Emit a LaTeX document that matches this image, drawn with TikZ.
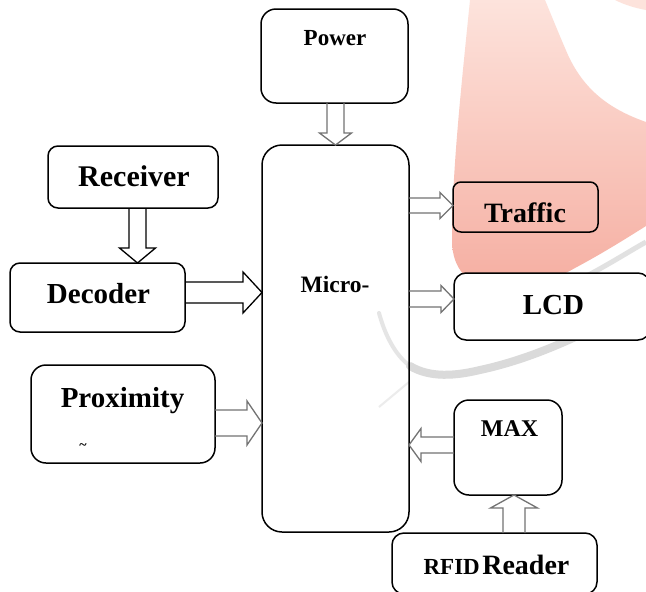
\documentclass[tikz,border=0pt]{standalone}
\usepackage{fontspec}
\setmainfont{Liberation Serif}
\usetikzlibrary{calc}

\definecolor{wmtop}{HTML}{FDE3DC}
\definecolor{wmbot}{HTML}{F5AC9F}
\definecolor{wmgrey}{HTML}{DADADA}

% bold text at a given size
\newcommand\fsz[1]{\fontsize{#1}{#1}\selectfont\bfseries}

% horizontal block arrow: #1 tail, #2 tip (x only), #3 shaft half width,
% #4 head half width, #5 signed head length, #6 style
\newcommand\harrow[6]{%
  \draw[#6] let \p1=(#1), \p2=(#2) in
    (\x1,{\y1+#3}) -- ({\x2-(#5)},{\y1+#3}) -- ({\x2-(#5)},{\y1+#4})
    -- (\x2,\y1) -- ({\x2-(#5)},{\y1-#4}) -- ({\x2-(#5)},{\y1-#3})
    -- (\x1,{\y1-#3});}
% vertical block arrow, same arguments with the roles of x and y swapped
\newcommand\varrow[6]{%
  \draw[#6] let \p1=(#1), \p2=(#2) in
    ({\x1+#3},\y1) -- ({\x1+#3},{\y2-(#5)}) -- ({\x1+#4},{\y2-(#5)})
    -- (\x1,\y2) -- ({\x1-#4},{\y2-(#5)}) -- ({\x1-#3},{\y2-(#5)})
    -- ({\x1-#3},\y1);}

\tikzset{
  box/.style={draw=black, line width=1.5pt, rounded corners=#1,
    inner sep=0pt, outer sep=0pt},
  box/.default=12pt,
  lbl/.style={inner sep=0pt, anchor=base},
  blockarrow/.style={draw=black!55, line width=1.3pt, line join=miter},
  darkarrow/.style={draw=black, line width=1.3pt, line join=miter},
}

\begin{document}
\begin{tikzpicture}[x=1pt, y=-1pt]
\useasboundingbox (0,0) rectangle (646,592);
\fill[white] (0,0) rectangle (646,592);

% background mark
\shade[top color=wmtop, bottom color=wmbot]
  (470,0) .. controls (462,80) and (452,170) .. (452,240)
  .. controls (452,300) and (520,300) .. (575,268)
  .. controls (605,252) and (630,236) .. (646,226)
  -- (646,122) .. controls (612,110) and (585,92) .. (568,55)
  .. controls (558,32) and (550,12) .. (545,0) -- cycle;
\fill[wmtop] (615,0) -- (646,0) -- (646,10) .. controls (635,8) and (625,5) .. (615,0);
\draw[wmgrey, line width=5pt, opacity=0.8]
  (575,282) .. controls (605,267) and (628,252) .. (646,242);
\draw[wmgrey!70, line width=4pt, line cap=round]
  (379,313) .. controls (385,335) and (395,355) .. (410,366);
\draw[wmgrey, line width=8pt, line cap=round]
  (410,366) .. controls (430,378) and (455,376) .. (480,370)
  .. controls (545,356) and (600,325) .. (646,302);
\draw[wmgrey!50, line width=2pt]
  (379,407) -- (409,382);

% blocks
\node[box=15pt, minimum width=147pt, minimum height=94pt] (power) at (334.5,56) {};
\node[lbl, font=\fsz{23}] (powertxt) at (335,45) {Power};

\node[box=20pt, minimum width=147pt, minimum height=387pt] (micro) at (335.5,338.5) {};
\node[lbl, font=\fsz{23.5}] (microtxt) at (335,292) {Micro-};

\node[box=10pt, minimum width=170pt, minimum height=62pt] (receiver) at (133,177) {};
\node[lbl, font=\fsz{30}] (receivertxt) at (134,186) {Receiver};

\node[box=10pt, minimum width=175pt, minimum height=69pt] (decoder) at (97.5,297.5) {};
\node[lbl, font=\fsz{29}] (decodertxt) at (98.5,303) {Decoder};

\node[box=8pt, minimum width=145pt, minimum height=50pt] (traffic) at (525.5,207) {};
\node[lbl, font=\fsz{28}] (traffictxt) at (525,222) {Traffic};

\node[box=12pt, fill=white, minimum width=196pt, minimum height=67pt] (lcd) at (552,306.5) {};
\node[lbl, font=\fsz{29}] (lcdtxt) at (553.5,314) {LCD};

\node[box=15pt, minimum width=184pt, minimum height=98pt] (proximity) at (123,414) {};
\node[lbl, font=\fsz{29}] (proximitytxt) at (122.5,407) {Proximity};
\node[inner sep=0pt, font=\fsz{14}] (tilde) at (83,447) {\textasciitilde};

\node[box=15pt, minimum width=108pt, minimum height=95pt] (max) at (508,447.5) {};
\node[lbl, font=\fsz{24}] (maxtxt) at (509.5,436) {MAX};

\node[box=12pt, minimum width=205pt, minimum height=61pt] (rfid) at (494.5,563.5) {};
\node[lbl] (rfidtxt) at (496.5,574) {{\fsz{23}RFID} {\fsz{28}Reader}};

% connection points
\coordinate (pw) at ($(power.south)+(1,0)$);
\coordinate (rc) at ($(receiver.south)+(4.5,0)$);
\coordinate (dc) at ($(decoder.east)+(0,-5)$);
\coordinate (tf) at ($(traffic.west)+(0,-1.5)$);
\coordinate (ld) at ($(lcd.west)+(0,-7.5)$);
\coordinate (px) at ($(proximity.east)+(0,9)$);
\coordinate (mx) at ($(max.west)+(0,-2.5)$);
\coordinate (rf) at ($(rfid.north)+(19.5,0)$);

% block arrows
\varrow{pw}{pw |- micro.north}{8.5pt}{16pt}{-12pt}{blockarrow}
\varrow{rc}{rc |- decoder.north}{8.5pt}{18pt}{-15pt}{darkarrow}
\harrow{dc}{dc -| micro.west}{10.5pt}{20.5pt}{19pt}{darkarrow}
\harrow{tf -| micro.east}{tf}{7.5pt}{13pt}{13pt}{blockarrow}
\harrow{ld -| micro.east}{ld}{8pt}{13.5pt}{13pt}{blockarrow}
\harrow{px}{px -| micro.west}{13pt}{22pt}{15pt}{blockarrow}
\harrow{mx}{mx -| micro.east}{8pt}{16.5pt}{-12pt}{blockarrow}
\varrow{rf}{rf |- max.south}{11pt}{23.5pt}{13pt}{blockarrow}
\end{tikzpicture}
\end{document}
